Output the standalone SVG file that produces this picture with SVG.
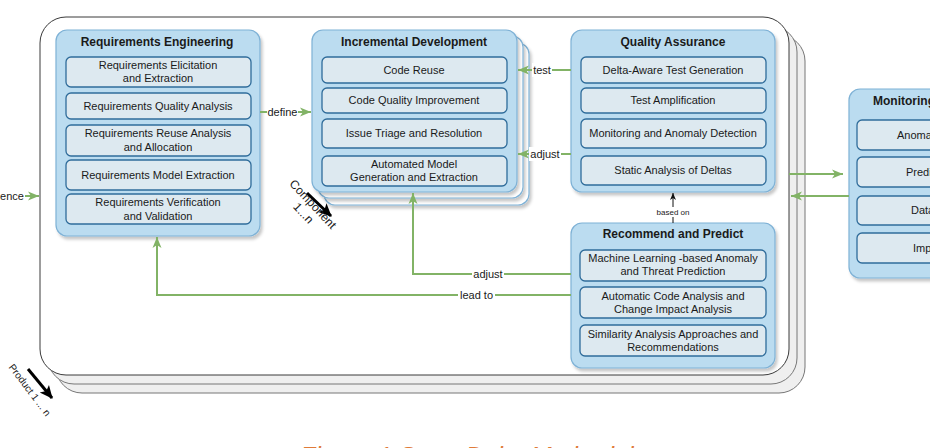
<svg xmlns="http://www.w3.org/2000/svg" width="930" height="448" viewBox="0 0 930 448">
<style>
text{font-family:"Liberation Sans",Arial,sans-serif;fill:#1a1a1a}
.grp{fill:#bbdcf0;stroke:#7fb2d6;stroke-width:1.2}
.back{fill:#ffffff;stroke:#7fb2d6;stroke-width:1.2}
.item{fill:#dde9f0;stroke:#2f6c9a;stroke-width:1.3}
.t{font-size:12px;font-weight:bold;text-anchor:middle}
.i{font-size:11px;text-anchor:middle}
.lbl{font-size:11px;text-anchor:middle}
.g{fill:none;stroke:#82b366;stroke-width:2}
.bgr{fill:#ffffff}
.outer{fill:#ffffff;stroke:#3a3a3a;stroke-width:1}
.outerb{fill:#efefef;stroke:#777;stroke-width:1}
</style>
<defs>
<marker id="ga" markerUnits="userSpaceOnUse" markerWidth="12" markerHeight="10" refX="11" refY="5" orient="auto">
<path d="M0,0.5 L11,5 L0,9.5 L3,5 z" fill="#82b366"/>
</marker>
<marker id="ba" markerUnits="userSpaceOnUse" markerWidth="8" markerHeight="8" refX="7" refY="4" orient="auto">
<path d="M0,1 L7,4 L0,7 L2,4 z" fill="#111"/>
</marker>
<marker id="bk" markerUnits="userSpaceOnUse" markerWidth="14" markerHeight="14" refX="12" refY="7" orient="auto">
<path d="M0,1 L13,7 L0,13 L3,7 z" fill="#000"/>
</marker>
<filter id="sh" x="-10%" y="-10%" width="130%" height="130%">
<feDropShadow dx="2" dy="3" stdDeviation="1.5" flood-color="#000" flood-opacity="0.22"/>
</filter>
</defs>

<g id="product-stack">
<rect class="outerb" x="56" y="35" width="749" height="358" rx="26"/>
<rect class="outerb" x="48" y="26" width="749" height="358" rx="26"/>
<rect class="outer" x="40" y="17" width="749" height="358" rx="26"/>
</g>

<g id="requirements-engineering">
<rect class="grp" x="56" y="30" width="204" height="206" rx="11" filter="url(#sh)"/>
<text class="t" x="157" y="46">Requirements Engineering</text>
<rect class="item" x="66" y="57" width="185" height="30" rx="5"/>
<text class="i" x="158" y="69">Requirements Elicitation</text>
<text class="i" x="158" y="82">and Extraction</text>
<rect class="item" x="66" y="93" width="185" height="26" rx="5"/>
<text class="i" x="158" y="110">Requirements Quality Analysis</text>
<rect class="item" x="66" y="125" width="185" height="31" rx="5"/>
<text class="i" x="158" y="137">Requirements Reuse Analysis</text>
<text class="i" x="158" y="151">and Allocation</text>
<rect class="item" x="66" y="160" width="185" height="30" rx="5"/>
<text class="i" x="158" y="179">Requirements Model Extraction</text>
<rect class="item" x="66" y="194" width="185" height="30" rx="5"/>
<text class="i" x="158" y="206">Requirements Verification</text>
<text class="i" x="158" y="220">and Validation</text>
</g>

<g id="incremental-development">
<rect class="back" x="324" y="43" width="205" height="162" rx="11" filter="url(#sh)"/>
<rect class="back" x="318" y="36" width="205" height="162" rx="11" filter="url(#sh)"/>
<rect class="grp" x="312" y="30" width="205" height="162" rx="11" filter="url(#sh)"/>
<text class="t" x="414" y="46">Incremental Development</text>
<rect class="item" x="322" y="57" width="185" height="26" rx="5"/>
<text class="i" x="414" y="74">Code Reuse</text>
<rect class="item" x="322" y="88" width="185" height="25" rx="5"/>
<text class="i" x="414" y="104">Code Quality Improvement</text>
<rect class="item" x="322" y="119" width="185" height="29" rx="5"/>
<text class="i" x="414" y="137">Issue Triage and Resolution</text>
<rect class="item" x="322" y="156" width="185" height="30" rx="5"/>
<text class="i" x="414" y="168">Automated Model</text>
<text class="i" x="414" y="181">Generation and Extraction</text>
</g>

<g id="quality-assurance">
<rect class="grp" x="571" y="30" width="204" height="162" rx="11" filter="url(#sh)"/>
<text class="t" x="673" y="46">Quality Assurance</text>
<rect class="item" x="581" y="57" width="185" height="26" rx="5"/>
<text class="i" x="673" y="74">Delta-Aware Test Generation</text>
<rect class="item" x="581" y="88" width="185" height="25" rx="5"/>
<text class="i" x="673" y="104">Test Amplification</text>
<rect class="item" x="581" y="119" width="185" height="29" rx="5"/>
<text class="i" x="673" y="137">Monitoring and Anomaly Detection</text>
<rect class="item" x="581" y="156" width="185" height="29" rx="5"/>
<text class="i" x="673" y="174">Static Analysis of Deltas</text>
</g>

<g id="recommend-and-predict">
<rect class="grp" x="571" y="223" width="204" height="145" rx="11" filter="url(#sh)"/>
<text class="t" x="673" y="238">Recommend and Predict</text>
<rect class="item" x="580" y="250" width="186" height="31" rx="5"/>
<text class="i" x="673" y="262">Machine Learning -based Anomaly</text>
<text class="i" x="673" y="275">and Threat Prediction</text>
<rect class="item" x="580" y="287" width="186" height="31" rx="5"/>
<text class="i" x="673" y="300">Automatic Code Analysis and</text>
<text class="i" x="673" y="313">Change Impact Analysis</text>
<rect class="item" x="580" y="325" width="186" height="31" rx="5"/>
<text class="i" x="673" y="338">Similarity Analysis Approaches and</text>
<text class="i" x="673" y="351">Recommendations</text>
</g>

<g id="monitoring">
<rect class="grp" x="849" y="89" width="120" height="189" rx="11" filter="url(#sh)"/>
<text x="873" y="105" style="font-size:12px;font-weight:bold">Monitoring</text>
<rect class="item" x="857" y="120" width="110" height="30" rx="5"/>
<text x="897" y="139" style="font-size:11px">Anoma</text>
<rect class="item" x="857" y="157" width="110" height="30" rx="5"/>
<text x="906" y="176" style="font-size:11px">Predi</text>
<rect class="item" x="857" y="196" width="110" height="29" rx="5"/>
<text x="911" y="214" style="font-size:11px">Data</text>
<rect class="item" x="857" y="233" width="110" height="30" rx="5"/>
<text x="913" y="252" style="font-size:11px">Imp</text>
</g>

<g id="connectors">
<path class="g" d="M0,196 H39" marker-end="url(#ga)"/>
<rect class="bgr" x="0" y="189" width="25" height="14"/>
<text class="lbl" x="12" y="200">ence</text>

<path class="g" d="M260,112 H311" marker-end="url(#ga)"/>
<rect class="bgr" x="267" y="105" width="31" height="14"/>
<text class="lbl" x="282.5" y="116">define</text>

<path class="g" d="M571,70 H518" marker-end="url(#ga)"/>
<rect class="bgr" x="532" y="63" width="20" height="14"/>
<text class="lbl" x="542" y="74">test</text>

<path class="g" d="M571,154 H518" marker-end="url(#ga)"/>
<rect class="bgr" x="529" y="147" width="32" height="14"/>
<text class="lbl" x="545" y="158">adjust</text>

<path d="M673,223 V193" fill="none" stroke="#111" stroke-width="1" marker-end="url(#ba)"/>
<rect class="bgr" x="655" y="207" width="36" height="10"/>
<text x="673" y="215" style="font-size:8px;text-anchor:middle">based on</text>

<path class="g" d="M571,274 H413 V193" marker-end="url(#ga)"/>
<rect class="bgr" x="472" y="267" width="32" height="14"/>
<text class="lbl" x="488" y="278">adjust</text>

<path class="g" d="M571,295 H157 V237" marker-end="url(#ga)"/>
<rect class="bgr" x="458" y="288" width="37" height="14"/>
<text class="lbl" x="476.5" y="299">lead to</text>

<path class="g" d="M789,174 H843" marker-end="url(#ga)"/>
<path class="g" d="M849,196 H791" marker-end="url(#ga)"/>
</g>

<g id="annotations">
<path d="M307,193 L331,216" stroke="#000" stroke-width="3" fill="none" marker-end="url(#bk)"/>
<g transform="translate(310,207) rotate(47)">
<text x="0" y="0" style="font-size:12px;text-anchor:middle">Component</text>
<text x="0" y="13" style="font-size:12px;text-anchor:middle">1...n</text>
</g>
<path d="M28,369 L52,398" stroke="#000" stroke-width="3" fill="none" marker-end="url(#bk)"/>
<text transform="translate(27,392) rotate(53)" style="font-size:10px;text-anchor:middle">Product 1 ... n</text>
</g>

<text x="300" y="465" style="font-size:25px;font-style:italic;fill:#e07b39">Figure 1 SmartDelta Methodology</text>
</svg>
